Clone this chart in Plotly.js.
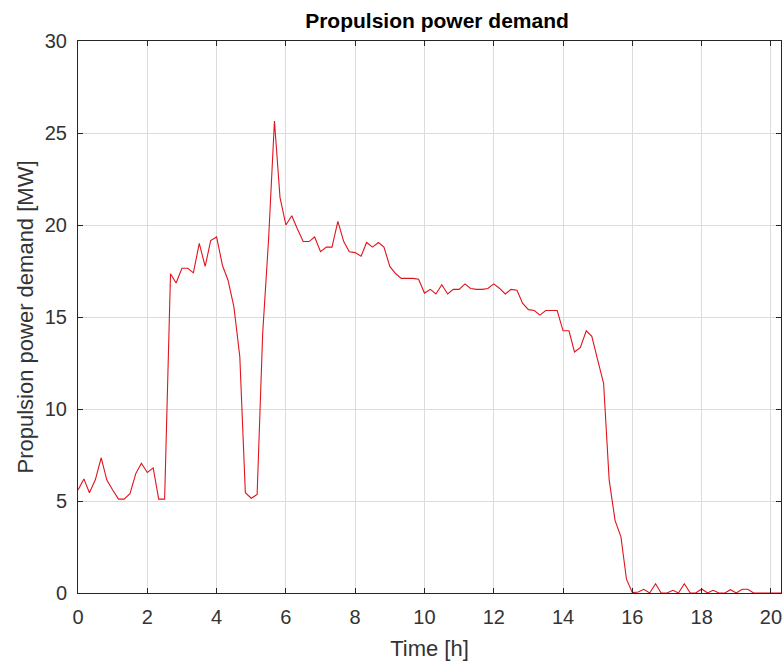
<!DOCTYPE html>
<html>
<head>
<meta charset="utf-8">
<script src="https://cdn.plot.ly/plotly-3.0.1.min.js"></script>
<style>
html,body{margin:0;padding:0;background:#fff;}
#chart{width:784px;height:661px;}
</style>
</head>
<body>
<div id="chart"></div>
<script>
const timeHours = [
  0, 0.17, 0.33, 0.5, 0.67, 0.83,
  1, 1.17, 1.33, 1.5, 1.67, 1.83,
  2, 2.17, 2.33, 2.5, 2.67, 2.83,
  3, 3.17, 3.33, 3.5, 3.67, 3.83,
  4, 4.17, 4.33, 4.5, 4.67, 4.83,
  5, 5.17, 5.33, 5.5, 5.67, 5.83,
  6, 6.17, 6.33, 6.5, 6.67, 6.83,
  7, 7.17, 7.33, 7.5, 7.67, 7.83,
  8, 8.17, 8.33, 8.5, 8.67, 8.83,
  9, 9.17, 9.33, 9.5, 9.67, 9.83,
  10, 10.17, 10.33, 10.5, 10.67, 10.83,
  11, 11.17, 11.33, 11.5, 11.67, 11.83,
  12, 12.17, 12.33, 12.5, 12.67, 12.83,
  13, 13.17, 13.33, 13.5, 13.67, 13.83,
  14, 14.17, 14.33, 14.5, 14.67, 14.83,
  15, 15.17, 15.33, 15.5, 15.67, 15.83,
  16, 16.17, 16.33, 16.5, 16.67, 16.83,
  17, 17.17, 17.33, 17.5, 17.67, 17.83,
  18, 18.17, 18.33, 18.5, 18.67, 18.83,
  19, 19.17, 19.33, 19.5, 19.67, 19.83,
  20, 20.17, 20.33
];
const powerMW = [
  5.6, 6.2, 5.45, 6.15, 7.35, 6.15,
  5.6, 5.1, 5.1, 5.4, 6.5, 7.05,
  6.55, 6.8, 5.1, 5.1, 17.35, 16.85,
  17.65, 17.65, 17.4, 19.0, 17.75, 19.15,
  19.35, 17.8, 17.0, 15.55, 12.85, 5.45,
  5.15, 5.35, 14.1, 19.2, 25.65, 21.5,
  20.0, 20.5, 19.8, 19.1, 19.1, 19.35,
  18.55, 18.8, 18.8, 20.2, 19.1, 18.55,
  18.5, 18.3, 19.05, 18.8, 19.05, 18.8,
  17.75, 17.35, 17.1, 17.1, 17.1, 17.05,
  16.3, 16.5, 16.25, 16.75, 16.25, 16.5,
  16.5, 16.8, 16.55, 16.5, 16.5, 16.55,
  16.8, 16.55, 16.25, 16.5, 16.45, 15.75,
  15.4, 15.35, 15.1, 15.35, 15.35, 15.35,
  14.25, 14.25, 13.1, 13.35, 14.25, 13.95,
  12.65, 11.4, 6.15, 3.95, 3.05, 0.75,
  0.02, 0.05, 0.2, 0, 0.5, 0,
  0, 0.15, 0, 0.5, 0, 0,
  0.22, 0, 0.15, 0, 0, 0.18,
  0, 0.2, 0.2, 0, 0, 0,
  0, 0, 0
];
const xTicks = [0, 2, 4, 6, 8, 10, 12, 14, 16, 18, 20];
const yTicks = [0, 5, 10, 15, 20, 25, 30];
const titleText = 'Propulsion power demand';
const xLabel = 'Time [h]';
const yLabel = 'Propulsion power demand [MW]';

const FONT = 'Liberation Sans, Arial, Helvetica, sans-serif';
const axisCommon = {
  showgrid: true,
  gridcolor: '#dcdcdc',
  gridwidth: 1,
  showline: true,
  linecolor: '#262626',
  linewidth: 1,
  mirror: 'ticks',
  ticks: 'inside',
  ticklen: 5,
  tickwidth: 1,
  tickcolor: '#262626',
  zeroline: false,
  tickfont: {family: FONT, size: 20, color: '#333333'},
  tickmode: 'array',
  fixedrange: true
};

const trace = {
  x: timeHours,
  y: powerMW,
  type: 'scatter',
  mode: 'lines',
  line: {color: '#e0141c', width: 1.1},
  hoverinfo: 'skip'
};

const layout = {
  width: 784,
  height: 661,
  margin: {l: 78, r: 3, t: 41, b: 68},
  paper_bgcolor: '#ffffff',
  plot_bgcolor: '#ffffff',
  showlegend: false,
  title: {
    text: '<b>' + titleText + '</b>',
    font: {family: FONT, size: 21, color: '#000000'},
    xref: 'container', x: 437 / 784, xanchor: 'center',
    yref: 'container', y: 1 - 21 / 661, yanchor: 'middle'
  },
  xaxis: Object.assign({}, axisCommon, {
    range: [0, 20.29],
    tickvals: xTicks,
    ticktext: xTicks.map(String),
    ticklabelstandoff: 6,
    title: {text: xLabel, font: {family: FONT, size: 22, color: '#333333'}, standoff: 13}
  }),
  yaxis: Object.assign({}, axisCommon, {
    range: [0, 30],
    tickvals: yTicks,
    ticktext: yTicks.map(String),
    ticklabelstandoff: 6,
    title: {text: yLabel, font: {family: FONT, size: 22, color: '#333333'}, standoff: 5}
  })
};

Plotly.newPlot('chart', [trace], layout, {displayModeBar: false, staticPlot: true});
</script>
</body>
</html>
